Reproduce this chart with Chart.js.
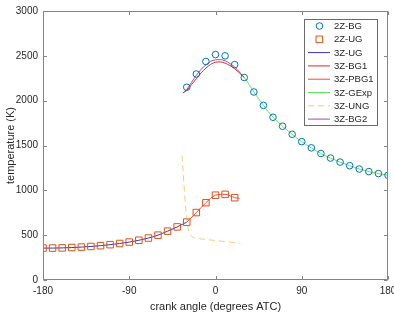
<!DOCTYPE html>
<html>
<head>
<meta charset="utf-8">
<script src="https://cdn.jsdelivr.net/npm/chart.js@4.4.0/dist/chart.umd.min.js"></script>
<style>
html,body{margin:0;padding:0;background:#fff;}
</style>
</head>
<body>
<canvas id="grafico" width="394" height="318"></canvas>
<script>
// -----------------------------
// Datos
// -----------------------------
const xTicks = [-180, -90, 0, 90, 180];
const yTicks = [0, 500, 1000, 1500, 2000, 2500, 3000];

// 2Z-BG (círculos)
const bgAngle = [-30, -20, -10, 0, 10, 20, 30, 40, 50, 60, 70, 80, 90, 100, 110, 120, 130, 140, 150, 160, 170, 180];
const bgTemp  = [2150, 2297, 2437, 2514, 2500, 2402, 2258, 2097, 1948, 1815, 1715, 1625, 1543, 1474, 1411, 1360, 1315, 1275, 1238, 1209, 1187, 1168];

// 2Z-UG (cuadrados)
const ugAngle = [-180, -170, -160, -150, -140, -130, -120, -110, -100, -90, -80, -70, -60, -50, -40, -30, -20, -10, 0, 10, 20];
const ugTemp  = [356, 356, 358, 362, 367, 374, 383, 394, 407, 423, 443, 468, 500, 545, 592, 645, 752, 862, 946, 955, 918];

// 3Z-UG
const ug3Angle = [-180, -170, -160, -150, -140, -130, -120, -110, -100, -90, -80, -70, -60, -50, -40, -30];
const ug3Temp  = [356, 356, 358, 362, 367, 374, 383, 394, 407, 423, 443, 468, 500, 545, 592, 645];

// 3Z-BG1
const bg1Angle = [-34, -30, -25, -20, -15, -10, -5, 0, 5, 10, 15, 20, 25, 30];
const bg1Temp  = [2087, 2115, 2180, 2245, 2310, 2363, 2405, 2429, 2432, 2418, 2392, 2355, 2310, 2258];

// 3Z-PBG1
const pbg1Angle = [-30, -20, -10, 0, 10, 20, 25];
const pbg1Temp  = [645, 752, 862, 946, 955, 918, 910];

// 3Z-GExp
const gexpAngle = [25, 30, 40, 50, 60, 70, 80, 90, 100, 110, 120, 130, 140, 150, 160, 170, 180];
const gexpTemp  = [2310, 2258, 2097, 1948, 1815, 1715, 1625, 1543, 1474, 1411, 1360, 1315, 1275, 1238, 1209, 1187, 1168];

// 3Z-UNG
const ungAngle = [-35, -34, -33, -32, -31, -30, -29, -28, -26, -23, -20, -10, 0, 10, 20, 26];
const ungTemp  = [1390, 1250, 1080, 930, 800, 700, 610, 545, 500, 475, 466, 452, 440, 428, 418, 410];

// 3Z-BG2
const bg2Angle = [-34, -30, -25, -20, -15, -10, -5, 0, 5, 10, 15, 20, 25, 30];
const bg2Temp  = [2087, 2125, 2205, 2282, 2350, 2400, 2440, 2455, 2458, 2445, 2415, 2375, 2320, 2258];

// -----------------------------
// Utilidades
// -----------------------------
const puntos = (xs, ys) => xs.map((v, i) => ({x: v, y: ys[i]}));
const fuente = "'Liberation Sans', Arial, sans-serif";
const texto = '#262626';

function serieLinea(label, xs, ys, color, dash) {
  return {
    label, data: puntos(xs, ys), showLine: true, borderColor: color,
    backgroundColor: color, borderWidth: 1, pointRadius: 0, borderDash: dash || [],
    tension: 0.3, cubicInterpolationMode: 'monotone'
  };
}

const datasets = [
  {label: '2Z-BG', data: puntos(bgAngle, bgTemp), showLine: false, pointStyle: 'circle',
   pointRadius: 3.3, pointBorderWidth: 1, borderColor: '#0072BD', backgroundColor: 'rgba(0,0,0,0)'},
  {label: '2Z-UG', data: puntos(ugAngle, ugTemp), showLine: false, pointStyle: 'rect',
   pointRadius: 4.6, pointBorderWidth: 1, borderColor: '#D95319', backgroundColor: 'rgba(0,0,0,0)'},
  serieLinea('3Z-UG', ug3Angle, ug3Temp, '#3535b8'),
  serieLinea('3Z-BG1', bg1Angle, bg1Temp, '#dd2a2a'),
  serieLinea('3Z-PBG1', pbg1Angle, pbg1Temp, '#f04a3a'),
  serieLinea('3Z-GExp', gexpAngle, gexpTemp, '#5ee65e'),
  serieLinea('3Z-UNG', ungAngle, ungTemp, '#efd070', [6, 4]),
  serieLinea('3Z-BG2', bg2Angle, bg2Temp, '#9a4fb0')
];

// -----------------------------
// Marco, marcas y leyenda
// -----------------------------
const marcoPlugin = {
  id: 'marco',
  afterDraw(chart) {
    const {ctx, chartArea: a, scales: {x, y}} = chart;
    const L = Math.round(a.left) + 0.5, R = Math.round(a.right) - 0.5;
    const T = Math.round(a.top) + 0.5, B = Math.round(a.bottom) - 0.5;
    ctx.save();
    ctx.strokeStyle = '#858585';
    ctx.lineWidth = 1;
    ctx.setLineDash([]);
    ctx.strokeRect(L, T, R - L, B - T);
    ctx.beginPath();
    xTicks.forEach(v => {
      const px = Math.round(x.getPixelForValue(v)) + 0.5;
      ctx.moveTo(px, B); ctx.lineTo(px, B - 3.5);
      ctx.moveTo(px, T); ctx.lineTo(px, T + 3.5);
    });
    yTicks.forEach(v => {
      const py = Math.round(y.getPixelForValue(v)) + 0.5;
      ctx.moveTo(L, py); ctx.lineTo(L + 3.5, py);
      ctx.moveTo(R, py); ctx.lineTo(R - 3.5, py);
    });
    ctx.stroke();

    // leyenda
    const bx = 304.5, by = 19.5, bw = 73, bh = 106, fila = 13.3;
    ctx.fillStyle = '#fff';
    ctx.fillRect(bx, by, bw, bh);
    ctx.strokeStyle = '#6a6a6a';
    ctx.strokeRect(bx, by, bw, bh);
    ctx.font = '9.5px ' + fuente;
    ctx.textBaseline = 'middle';
    ctx.textAlign = 'left';
    chart.data.datasets.forEach((ds, i) => {
      const cy = 26 + i * fila;
      ctx.save();
      ctx.strokeStyle = ds.borderColor;
      ctx.lineWidth = 1;
      if (ds.showLine) {
        ctx.setLineDash(ds.borderDash || []);
        ctx.beginPath();
        ctx.moveTo(308, cy); ctx.lineTo(330, cy);
        ctx.stroke();
      } else {
        ctx.setLineDash([]);
        ctx.beginPath();
        if (ds.pointStyle === 'circle') {
          ctx.arc(319.5, cy, 3.3, 0, Math.PI * 2);
        } else {
          ctx.rect(316, cy - 3.3, 6.6, 6.6);
        }
        ctx.stroke();
      }
      ctx.restore();
      ctx.fillStyle = texto;
      ctx.fillText(ds.label, 334, cy + 0.5);
    });
    ctx.restore();
  }
};

// -----------------------------
// Gráfico
// -----------------------------
const grafico = new Chart(document.getElementById('grafico').getContext('2d'), {
  type: 'scatter',
  data: {datasets},
  options: {
    responsive: false,
    animation: false,
    devicePixelRatio: 1,
    layout: {padding: {top: 8, right: 6, left: 0, bottom: 0}},
    plugins: {legend: {display: false}, tooltip: {enabled: false}},
    scales: {
      x: {
        type: 'linear', min: -180, max: 180,
        afterBuildTicks: s => { s.ticks = xTicks.map(v => ({value: v})); },
        afterFit: s => { s.height = 38; s.paddingLeft = 0; s.paddingRight = 0; },
        grid: {display: false, drawTicks: false},
        border: {display: false},
        ticks: {padding: 5, color: texto, font: {family: fuente, size: 10}, maxRotation: 0, autoSkip: false,
                callback: v => String(v)},
        title: {display: true, text: 'crank angle (degrees ATC)', color: texto, font: {family: fuente, size: 11}}
      },
      y: {
        type: 'linear', min: 0, max: 3000,
        afterBuildTicks: s => { s.ticks = yTicks.map(v => ({value: v})); },
        afterFit: s => { s.width = 43; },
        grid: {display: false, drawTicks: false},
        border: {display: false},
        ticks: {padding: 5, color: texto, font: {family: fuente, size: 10}, callback: v => String(v)},
        title: {display: true, text: 'temperature (K)', color: texto, font: {family: fuente, size: 11},
                padding: {top: 4, bottom: 4}}
      }
    }
  },
  plugins: [marcoPlugin]
});
</script>
</body>
</html>
